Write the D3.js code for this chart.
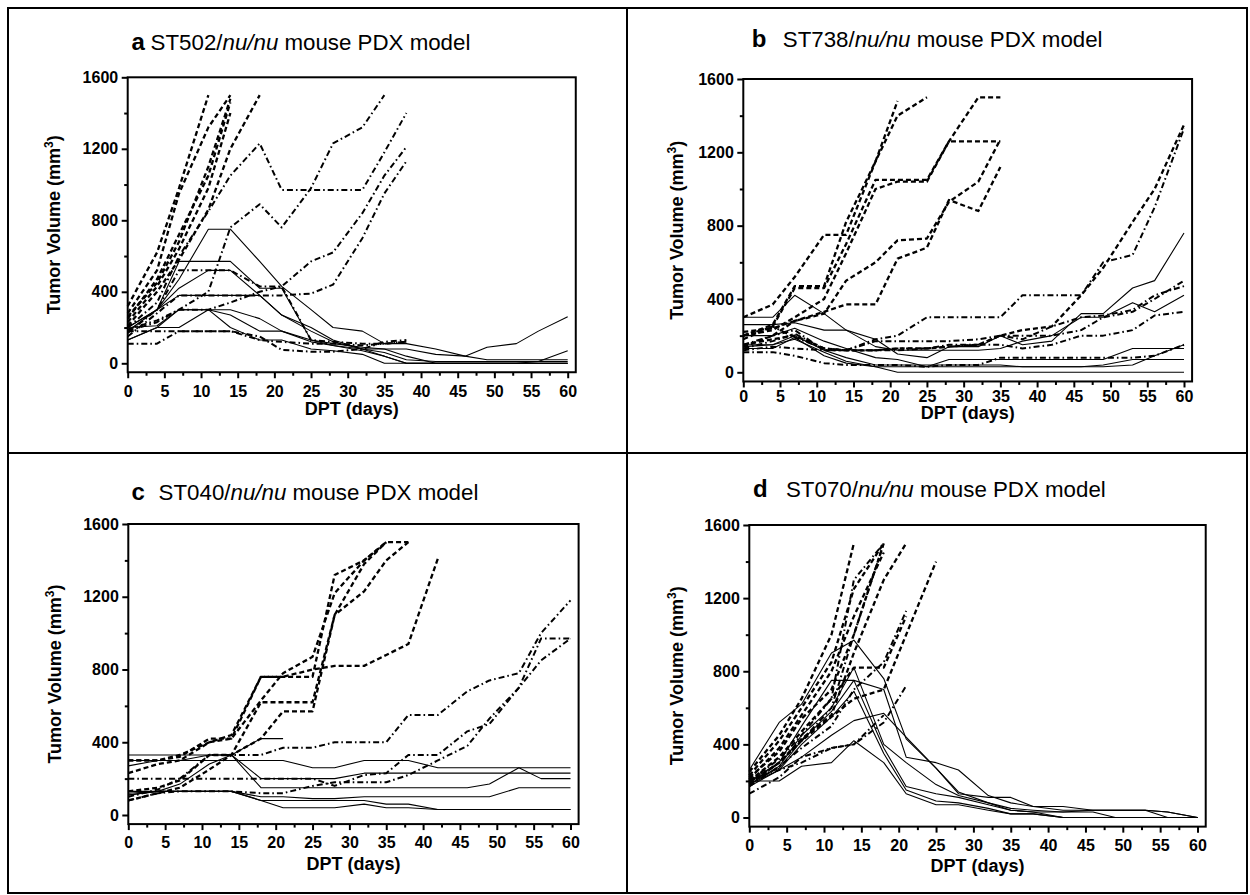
<!DOCTYPE html>
<html>
<head>
<meta charset="utf-8">
<script src="https://cdn.jsdelivr.net/npm/d3@7"></script>
<style>
  body { margin: 0; background: #fff; }
  svg { display: block; font-family: "Liberation Sans", Arial, sans-serif; }
</style>
</head>
<body>
<svg id="chart" width="1250" height="895"></svg>
<script>
// measurement days (DPT), shared by all panels
const days = [0, 4, 7, 11, 14, 18, 21, 25, 28, 32, 35, 38, 42, 46, 49, 53, 56, 60];

// ---- panel a: ST502 ----
const aDash = [
  [320, 620, 980, 1500],
  [280, 520, 950, 1320, 1500],
  [250, 470, 720, 1050, 1460],
  [230, 430, 640, 980, 1400],
  [260, 450, 680, 1100, 1480],
  [210, 400, 580, 860, 1200, 1500]
];
const aDashDot = [
  [180, 230, 300, 400, 760, 890, 760, 980, 1230, 1320, 1500],
  [200, 340, 600, 850, 1050, 1230, 970, 970, 970, 970, 1180, 1400],
  [190, 240, 300, 300, 340, 400, 430, 570, 620, 840, 1050, 1210],
  [150, 280, 380, 380, 380, 380, 380, 390, 440, 700, 950, 1130],
  [170, 300, 520, 520, 520, 430, 430, 130, 120, 110, 110, 120],
  [110, 110, 180, 180, 180, 150, 75, 65, 65, 80, 120, 130],
  [180, 180, 180, 180, 180, 130, 120, 110, 110, 100, 110, 120]
];
const aSolid = [
  [200, 300, 470, 750, 750, 570, 430, 300, 200, 180, 110, 110, 80, 40, 90, 110, 180, 260],
  [200, 300, 570, 570, 570, 420, 420, 130, 110, 90, 80, 80, 50, 40, 20, 20, 20, 20],
  [180, 300, 420, 520, 520, 380, 270, 180, 120, 80, 40, 0, 0, 0, 0, 0, 0, 0],
  [180, 300, 380, 380, 380, 380, 270, 200, 130, 80, 80, 40, 0, 0, 0, 0, 0, 0],
  [130, 200, 300, 300, 270, 180, 180, 130, 100, 70, 40, 0, 0, 0, 0, 0, 0, 0],
  [130, 200, 200, 300, 200, 130, 130, 80, 70, 50, 0, 0, 0, 0, 0, 0, 10, 70],
  [200, 210, 300, 300, 300, 250, 180, 120, 100, 80, 60, 20, 10, 10, 10, 10, 10, 10]
];

// ---- panel b: ST738 ----
const bDash = [
  [300, 370, 520, 750, 750, 1150, 1400, 1500],
  [200, 260, 470, 470, 820, 1150, 1480],
  [180, 250, 460, 460, 700, 1050, 1050, 1050, 1260, 1500, 1500],
  [200, 230, 300, 400, 650, 1000, 1040, 1040, 1260, 1260, 1260],
  [220, 240, 280, 320, 500, 600, 720, 730, 930, 1040, 1270],
  [140, 200, 280, 330, 370, 370, 620, 680, 940, 880, 1120],
  [150, 180, 200, 130, 120, 120, 130, 130, 140, 150, 200, 230, 250, 420, 570, 820, 1000, 1350]
];
const bDashDot = [
  [130, 170, 210, 130, 120, 180, 200, 300, 300, 300, 300, 420, 420, 420, 600, 640, 900, 1330],
  [120, 140, 130, 120, 120, 120, 130, 130, 150, 150, 200, 200, 200, 230, 300, 330, 400, 500],
  [110, 110, 90, 50, 40, 40, 40, 30, 40, 40, 80, 80, 80, 80, 80, 80, 90, 150],
  [150, 200, 230, 120, 120, 120, 120, 130, 140, 150, 150, 130, 150, 200, 200, 230, 310, 330],
  [200, 250, 190, 130, 120, 170, 170, 170, 170, 180, 200, 180, 250, 300, 310, 340, 420, 470]
];
const bSolid = [
  [300, 300, 420, 320, 230, 180, 100, 80, 140, 140, 200, 150, 170, 320, 320, 460, 500, 760],
  [260, 260, 270, 230, 230, 140, 120, 120, 120, 120, 130, 170, 200, 300, 300, 380, 330, 420],
  [200, 200, 240, 170, 130, 80, 70, 30, 70, 70, 70, 70, 70, 70, 70, 130, 130, 130],
  [150, 150, 200, 120, 80, 40, 40, 40, 40, 40, 40, 30, 30, 30, 40, 70, 70, 70],
  [140, 150, 180, 110, 60, 30, 0, 0, 0, 0, 0, 0, 0, 0, 0, 0, 0, 0],
  [130, 130, 190, 90, 50, 30, 30, 30, 30, 30, 30, 30, 30, 30, 30, 40, 90, 150]
];

// ---- panel c: ST040 ----
const cDash = [
  [300, 300, 330, 400, 440, 760, 760, 760, 1320, 1400, 1500, 1500],
  [230, 280, 300, 400, 420, 630, 780, 870, 1220, 1400, 1500],
  [130, 150, 190, 330, 330, 620, 620, 620, 1100, 1230, 1400, 1500],
  [80, 120, 150, 250, 330, 420, 570, 570, 1100, 1380, 1500],
  [300, 300, 320, 420, 420, 760, 760, 800, 820, 820, 880, 940, 1410]
];
const cDashDot = [
  [200, 200, 200, 200, 200, 200, 200, 200, 160, 220, 230, 330, 330, 460, 500, 700, 970, 970],
  [80, 120, 130, 130, 130, 120, 120, 160, 180, 180, 180, 220, 300, 380, 530, 700, 850, 970],
  [100, 140, 200, 330, 330, 330, 370, 370, 400, 400, 400, 550, 550, 680, 740, 780, 1000, 1180]
];
const cSolid = [
  [330, 330, 330, 330, 330, 420, 420],
  [270, 300, 300, 330, 330, 200, 200, 200, 200, 230, 230, 230, 230, 230, 230, 230, 230, 230],
  [300, 300, 300, 300, 300, 300, 300, 260, 260, 300, 300, 300, 260, 260, 260, 260, 260, 260],
  [110, 130, 170, 280, 330, 150, 150, 150, 150, 150, 150, 150, 150, 150, 170, 260, 200, 200],
  [130, 130, 130, 130, 130, 100, 100, 90, 90, 100, 100, 100, 100, 100, 100, 150, 150, 150],
  [120, 130, 130, 130, 130, 80, 80, 80, 80, 80, 60, 60, 30, 30, 30, 30, 30, 30],
  [110, 130, 130, 130, 130, 80, 40, 40, 40, 60, 40, 40, 30, 30, 30, 30, 30, 30]
];

// ---- panel d: ST070 ----
const dDash = [
  [250, 450, 650, 1000, 1500],
  [230, 420, 600, 850, 1250, 1500],
  [210, 380, 560, 800, 1100, 1450],
  [220, 360, 540, 700, 1000, 1500],
  [190, 300, 430, 560, 900, 1300, 1500],
  [180, 300, 420, 550, 650, 700, 1000, 1400],
  [200, 330, 470, 650, 820, 820, 1100]
];
const dDashDot = [
  [130, 220, 330, 380, 400, 520, 720],
  [180, 300, 420, 600, 1000, 1500],
  [200, 320, 450, 650, 1300, 1500],
  [170, 280, 380, 500, 700, 850, 1130],
  [200, 260, 300, 380, 400, 560]
];
const dSolid = [
  [260, 520, 620, 900, 970, 760, 430, 270, 130, 110, 110, 60, 60, 40, 40, 40, 30, 0],
  [200, 300, 500, 750, 750, 700, 330, 300, 260, 120, 80, 60, 40, 40, 40, 40, 0, 0],
  [180, 280, 450, 600, 820, 400, 300, 180, 120, 80, 50, 40, 30, 40, 40, 40, 30, 0],
  [200, 270, 420, 580, 750, 380, 170, 130, 110, 70, 40, 30, 0, 0, 0, 0, 0, 0],
  [170, 260, 400, 550, 690, 350, 150, 90, 80, 50, 20, 20, 0, 0, 0, 0, 0, 0],
  [180, 260, 330, 450, 530, 570, 440, 270, 140, 80, 40, 30, 30, 30, 0, 0, 0, 0],
  [200, 200, 280, 300, 420, 300, 130, 70, 70, 40, 20, 20, 0, 0, 0, 0, 0, 0]
];

const letters = ['a', 'b', 'c', 'd'];
const models = ['ST502', 'ST738', 'ST040', 'ST070'];
const xTicks = d3.range(0, 61, 5);
const yTicks = [0, 400, 800, 1200, 1600];

const series = [
  { dash: aDash, dashDot: aDashDot, solid: aSolid },
  { dash: bDash, dashDot: bDashDot, solid: bSolid },
  { dash: cDash, dashDot: cDashDot, solid: cSolid },
  { dash: dDash, dashDot: dDashDot, solid: dSolid }
];

// pixel layout of each panel
const layout = [
  { x0: 127.7, x60: 567.7, y0: 363.3, y1600: 77.3, pad: 7, lx: 131.5, tx: 150.6, ty: 50, ytx: 53.8, xty: 415 },
  { x0: 743.3, x60: 1184, y0: 372.3, y1600: 79, pad: 3, lx: 751.7, tx: 782.8, ty: 46.5, ytx: 676.8, xty: 419 },
  { x0: 128.3, x60: 570.5, y0: 815, y1600: 524, pad: 7, lx: 131.5, tx: 158.6, ty: 500, ytx: 54.8, xty: 870 },
  { x0: 749.3, x60: 1197.5, y0: 817.5, y1600: 525, pad: 7, lx: 753, tx: 786, ty: 496.7, ytx: 676.8, xty: 872 }
];

const styles = {
  dash: { width: 2.3, array: '5,3' },
  dashDot: { width: 2, array: '6,3,1.6,3' },
  solid: { width: 1.1, array: null }
};

let svg = d3.select('#chart');

// outer frame and dividers
svg.append('rect')
  .attr('x', 8).attr('y', 8)
  .attr('width', 1239).attr('height', 885)
  .attr('fill', 'none').attr('stroke', '#000').attr('stroke-width', 2);
svg.append('line')
  .attr('x1', 627).attr('x2', 627).attr('y1', 8).attr('y2', 893)
  .attr('stroke', '#000').attr('stroke-width', 2);
svg.append('line')
  .attr('x1', 8).attr('x2', 1247).attr('y1', 453).attr('y2', 453)
  .attr('stroke', '#000').attr('stroke-width', 2);

function styleAxis(sel) {
  sel.attr('font-size', 16)
    .attr('font-weight', 'bold')
    .attr('font-family', '"Liberation Sans", Arial, sans-serif');
  sel.select('.domain').remove();
  sel.selectAll('.tick line').attr('stroke', '#000').attr('stroke-width', 2);
  sel.selectAll('.tick text').attr('fill', '#000');
}

layout.forEach((L, k) => {
  let g = svg.append('g');

  let x = d3.scaleLinear().domain([0, 60]).range([L.x0, L.x60]);
  let y = d3.scaleLinear().domain([0, 1600]).range([L.y0, L.y1600]);

  // data lines
  let line = d3.line()
    .x((d, i) => x(days[i]))
    .y(d => y(d));

  ['solid', 'dashDot', 'dash'].forEach(kind => {
    g.selectAll(`.${kind}`)
      .data(series[k][kind])
      .join('path')
      .attr('class', kind)
      .attr('d', line)
      .attr('fill', 'none')
      .attr('stroke', '#000')
      .attr('stroke-width', styles[kind].width)
      .attr('stroke-dasharray', styles[kind].array)
      .attr('stroke-linejoin', 'round');
  });

  // plot frame
  g.append('rect')
    .attr('x', x(0))
    .attr('y', y(1600))
    .attr('width', x(61.1) - x(0))
    .attr('height', y(-50) - y(1600))
    .attr('fill', 'none')
    .attr('stroke', '#000')
    .attr('stroke-width', 2);

  // axes
  g.append('g')
    .attr('transform', `translate(0, ${y(-50)})`)
    .call(d3.axisBottom(x).tickValues(xTicks).tickSize(6).tickPadding(L.pad).tickSizeOuter(0))
    .call(styleAxis);
  g.append('g')
    .attr('transform', `translate(0, ${y(-50)})`)
    .call(d3.axisBottom(x).tickValues(d3.range(2.5, 60, 5)).tickSize(3.5).tickFormat('').tickSizeOuter(0))
    .call(styleAxis);

  g.append('g')
    .attr('transform', `translate(${x(0)}, 0)`)
    .call(d3.axisLeft(y).tickValues(yTicks).tickSize(6).tickPadding(3.5).tickFormat(d3.format('d')).tickSizeOuter(0))
    .call(styleAxis);
  g.append('g')
    .attr('transform', `translate(${x(0)}, 0)`)
    .call(d3.axisLeft(y).tickValues([200, 600, 1000, 1400]).tickSize(3.5).tickFormat('').tickSizeOuter(0))
    .call(styleAxis);

  // axis titles
  g.append('text')
    .attr('x', (x(0) + x(61.1)) / 2)
    .attr('y', L.xty)
    .attr('text-anchor', 'middle')
    .attr('font-size', 18)
    .attr('font-weight', 'bold')
    .text('DPT (days)');

  let yt = g.append('text')
    .attr('transform', `translate(${L.ytx + 6}, ${(y(1600) + y(-50)) / 2}) rotate(-90)`)
    .attr('text-anchor', 'middle')
    .attr('font-size', 18)
    .attr('font-weight', 'bold');
  yt.append('tspan').text('Tumor Volume (mm');
  yt.append('tspan').attr('dy', -7).attr('font-size', 12).text('3');
  yt.append('tspan').attr('dy', 7).text(')');

  // panel title
  g.append('text')
    .attr('x', L.lx).attr('y', L.ty)
    .attr('font-size', 24)
    .attr('font-weight', 'bold')
    .text(letters[k]);
  let t = g.append('text')
    .attr('x', L.tx).attr('y', L.ty)
    .attr('font-size', 22.3);
  t.append('tspan').text(models[k] + '/');
  t.append('tspan').attr('font-style', 'italic').text('nu/nu');
  t.append('tspan').text(' mouse PDX model');
});
</script>
</body>
</html>
